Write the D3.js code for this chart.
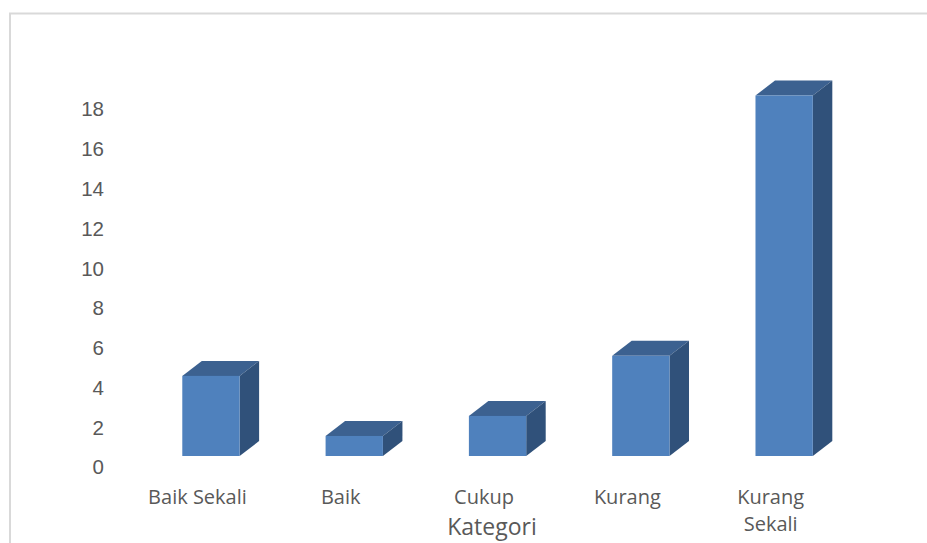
<!DOCTYPE html>
<html lang="id">
<head>
<meta charset="UTF-8">
<title>Kategori</title>
<script src="https://d3js.org/d3.v7.min.js"></script>
<style>
  * { margin: 0; padding: 0; }
  body { background: #fff; }
  svg { display: block; font-family: "Open Sans", "Noto Sans", sans-serif; }
</style>
</head>
<body>
<div id="chart"></div>
<script>
const categories = ["Baik Sekali", "Baik", "Cukup", "Kurang", "Kurang Sekali"];
const values = [4, 1, 2, 5, 18];
const yTicks = [0, 2, 4, 6, 8, 10, 12, 14, 16, 18];

const w = 927, h = 543;
const depthX = 19.5, depthY = 15;

const svg = d3.select("#chart").append("svg")
  .attr("width", w)
  .attr("height", h);

// chart area frame (only top and left edges are visible)
svg.append("rect")
  .attr("x", 10).attr("y", 13.5)
  .attr("width", w + 20).attr("height", h + 20)
  .attr("fill", "none")
  .attr("stroke", "#d9d9d9")
  .attr("stroke-width", 2);

const x = d3.scaleBand()
  .domain(categories)
  .range([139.3, 855.8])
  .paddingInner(0.6)
  .paddingOuter(0.3);

const y = d3.scaleLinear()
  .domain([0, 18])
  .range([456, 95.5]);

// axis sits on the floor in front of the bars
const yAxisScale = y.copy().range([467, 109]);

const yAxis = svg.append("g")
  .attr("transform", "translate(104,0)")
  .call(d3.axisLeft(yAxisScale).tickValues(yTicks).tickSize(0).tickPadding(0));
yAxis.select(".domain").remove();
yAxis.selectAll("text")
  .attr("fill", "#595959")
  .style("font-size", "20.5px")
  .attr("dy", "0.34em");

const bars = svg.append("g").selectAll("g.bar")
  .data(categories.map((c, i) => ({ cat: c, val: values[i] })))
  .join("g").attr("class", "bar");

bars.each(function(d) {
  const g = d3.select(this);
  const x0 = x(d.cat), x1 = x0 + x.bandwidth();
  const yt = y(d.val), yb = y(0);
  // top face
  g.append("path")
    .attr("d", `M${x0},${yt}L${x0 + depthX},${yt - depthY}L${x1 + depthX},${yt - depthY}L${x1},${yt}Z`)
    .attr("fill", "#3c6190");
  // side face
  g.append("path")
    .attr("d", `M${x1},${yt}L${x1 + depthX},${yt - depthY}L${x1 + depthX},${yb - depthY}L${x1},${yb}Z`)
    .attr("fill", "#30517a");
  // front face
  g.append("rect")
    .attr("x", x0).attr("y", yt)
    .attr("width", x.bandwidth()).attr("height", yb - yt)
    .attr("fill", "#4f81bd");
});

// category labels (two lines for the long one)
const labelLines = { "Kurang Sekali": ["Kurang", "Sekali"] };
svg.append("g").selectAll("text")
  .data(categories)
  .join("text")
  .attr("x", d => x(d) + x.bandwidth() / 2 - 13.5)
  .attr("y", 504)
  .attr("text-anchor", "middle")
  .attr("fill", "#595959")
  .style("font-size", "20px")
  .each(function(d) {
    const lines = labelLines[d] || [d];
    const t = d3.select(this);
    lines.forEach((l, i) => {
      t.append("tspan")
        .attr("x", x(d) + x.bandwidth() / 2 - 13.5)
        .attr("dy", i === 0 ? 0 : 27)
        .text(l);
    });
  });

svg.append("text")
  .attr("x", 492)
  .attr("y", 535)
  .attr("text-anchor", "middle")
  .attr("fill", "#595959")
  .style("font-size", "23px")
  .text("Kategori");
</script>
</body>
</html>
